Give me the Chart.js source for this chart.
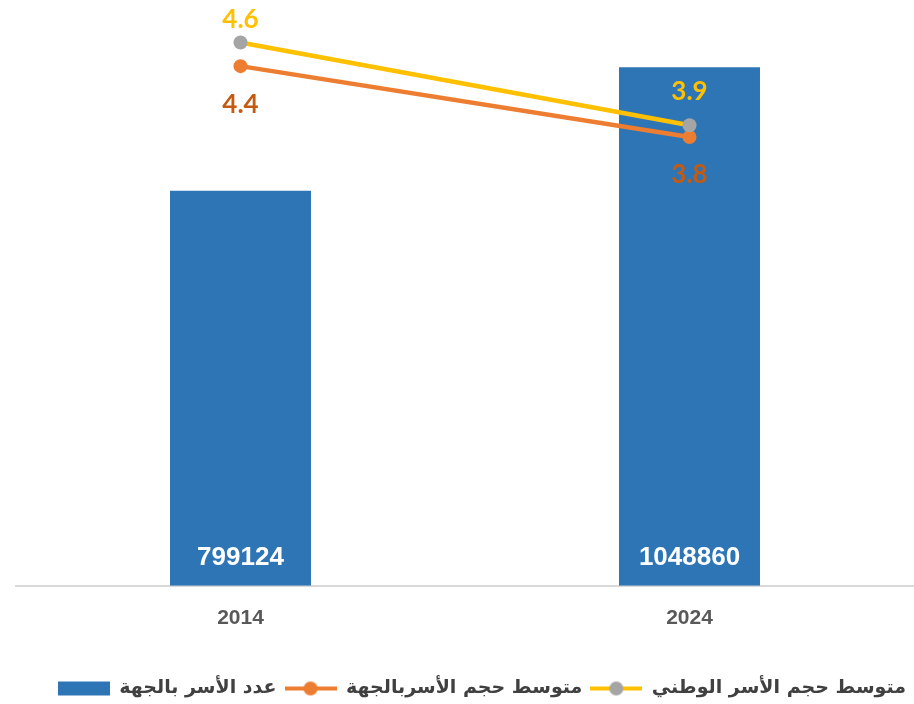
<!DOCTYPE html>
<html>
<head>
<meta charset="utf-8">
<script src="https://cdn.jsdelivr.net/npm/chart.js@4"></script>
<style>
  html, body { margin: 0; padding: 0; background: #fff; }
  #wrap { width: 914px; height: 704px; }
</style>
</head>
<body>
<div id="wrap"><canvas id="householdChart" width="914" height="704"></canvas></div>
<script>
const years = ['2014', '2024'];
const households = [799124, 1048860];
const regionAvg = [4.4, 3.8];
const nationalAvg = [4.6, 3.9];
const seriesNames = ['عدد الأسر بالجهة', 'متوسط حجم الأسربالجهة', 'متوسط حجم الأسر الوطني'];

function legendIcon(kind, color, dot) {
    const c = document.createElement('canvas');
    c.width = 52; c.height = 16;
    const g = c.getContext('2d');
    if (kind === 'box') {
        g.fillStyle = color;
        g.fillRect(0, 1, 52, 14);
    } else {
        g.strokeStyle = color;
        g.lineWidth = 4;
        g.beginPath(); g.moveTo(0, 8); g.lineTo(52, 8); g.stroke();
        g.fillStyle = dot;
        g.beginPath(); g.arc(26, 8, 7, 0, Math.PI * 2); g.fill();
    }
    return c;
}

const icons = [
    legendIcon('box', '#2e75b6'),
    legendIcon('line', '#ed7d31', '#ed7d31'),
    legendIcon('line', '#ffc000', '#a5a5a5')
];

// nudge the legend a few px lower
const legendNudge = {
    id: 'legendNudge',
    afterLayout(chart) {
        chart.legend.top += 4;
        chart.legend.bottom += 4;
    }
};

const valueLabels = {
    id: 'valueLabels',
    afterDatasetsDraw(chart) {
        const ctx = chart.ctx;
        ctx.save();
        ctx.textAlign = 'center';
        ctx.textBaseline = 'middle';
        // bar values, inside bottom of bars
        chart.getDatasetMeta(0).data.forEach((el, i) => {
            ctx.font = 'bold 26px "Liberation Sans Narrow", "Liberation Sans", sans-serif';
            ctx.fillStyle = '#ffffff';
            ctx.fillText(households[i], el.x, chart.scales.y.getPixelForValue(0) - 28);
        });
        // regional average, below points
        chart.getDatasetMeta(1).data.forEach((el, i) => {
            ctx.font = 'bold 26px Lato, sans-serif';
            ctx.fillStyle = '#c55a11';
            ctx.fillText(regionAvg[i].toFixed(1), el.x, el.y + 38);
        });
        // national average, above points
        chart.getDatasetMeta(2).data.forEach((el, i) => {
            ctx.font = 'bold 26px Lato, sans-serif';
            ctx.fillStyle = '#ffc000';
            ctx.fillText(nationalAvg[i].toFixed(1), el.x, el.y - (i === 0 ? 23 : 34));
        });
        ctx.restore();
    }
};

const ctx = document.getElementById('householdChart').getContext('2d');
new Chart(ctx, {
    data: {
        labels: years,
        datasets: [
            {
                type: 'bar',
                label: seriesNames[0],
                data: households,
                backgroundColor: '#2e75b6',
                yAxisID: 'y',
                categoryPercentage: 1,
                barPercentage: 0.314,
                order: 2
            },
            {
                type: 'line',
                label: seriesNames[1],
                data: regionAvg,
                borderColor: '#ed7d31',
                backgroundColor: '#ed7d31',
                borderWidth: 4.5,
                pointRadius: 7,
                pointBorderWidth: 0,
                yAxisID: 'y2',
                order: 1
            },
            {
                type: 'line',
                label: seriesNames[2],
                data: nationalAvg,
                borderColor: '#ffc000',
                backgroundColor: '#a5a5a5',
                pointBackgroundColor: '#a5a5a5',
                borderWidth: 4.5,
                pointRadius: 7,
                pointBorderWidth: 0,
                yAxisID: 'y2',
                order: 0
            }
        ]
    },
    options: {
        responsive: false,
        animation: false,
        layout: { autoPadding: false, padding: { left: 16, right: 0, top: 0, bottom: 0 } },
        plugins: {
            tooltip: { enabled: false },
            legend: {
                position: 'bottom',
                align: 'end',
                labels: {
                    usePointStyle: true,
                    pointStyleWidth: 52,
                    padding: 8,
                    color: '#404040',
                    font: { family: '"DejaVu Sans", sans-serif', size: 19, weight: 'bold' },
                    generateLabels: () => seriesNames.map((name, i) => ({
                        text: name,
                        pointStyle: icons[i],
                        datasetIndex: i,
                        fontColor: '#404040',
                        lineWidth: 0,
                        strokeStyle: 'transparent',
                        fillStyle: 'transparent'
                    }))
                }
            }
        },
        scales: {
            x: {
                grid: { display: false },
                border: { color: '#d9d9d9', width: 2 },
                ticks: {
                    color: '#595959',
                    padding: 12,
                    font: { family: '"Liberation Sans Narrow", "Liberation Sans", sans-serif', size: 21, weight: 'bold' }
                },
                afterFit: scale => { scale.height += 24; }
            },
            y: { display: false, min: 0, max: 1185000 },
            y2: { display: false, min: 0, max: 4.96, position: 'right' }
        }
    },
    plugins: [legendNudge, valueLabels]
});
</script>
</body>
</html>
